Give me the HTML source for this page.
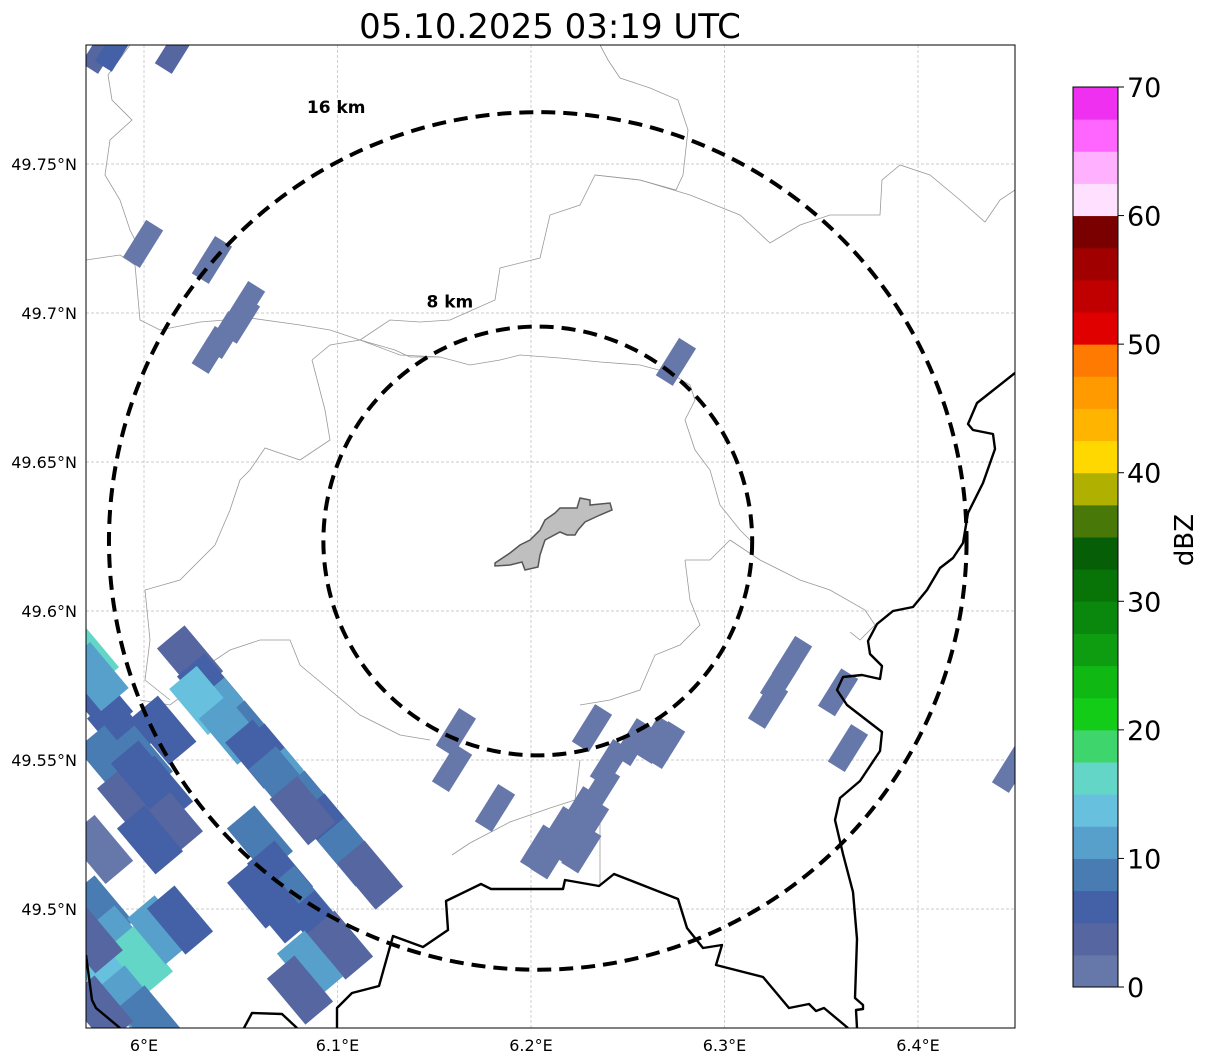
<!DOCTYPE html>
<html><head><meta charset="utf-8"><style>
html,body{margin:0;padding:0;background:#fff;}
svg{display:block;font-family:"DejaVu Sans","Liberation Sans",sans-serif;}
</style></head><body>
<svg id="chart" width="1207" height="1064" viewBox="0 0 1207 1064" xmlns="http://www.w3.org/2000/svg">
<defs><clipPath id="mapclip"><rect x="86" y="45" width="929" height="983"/></clipPath></defs>
<text x="550" y="38" font-size="34" text-anchor="middle">05.10.2025 03:19 UTC</text>
<g id="map" clip-path="url(#mapclip)"></g>
<rect x="86" y="45" width="929" height="983" fill="none" stroke="#000" stroke-width="1"/>
<g id="axes"></g>
<g id="cbar"></g>
<text x="1193" y="540" font-size="26" text-anchor="middle" transform="rotate(-90 1193 540)">dBZ</text>
</svg>
<script>
const lonTicks=[6.0,6.1,6.2,6.3,6.4];
const lonTickLabels=["6°E","6.1°E","6.2°E","6.3°E","6.4°E"];
const latTicks=[49.75,49.7,49.65,49.6,49.55,49.5];
const latTickLabels=["49.75°N","49.7°N","49.65°N","49.6°N","49.55°N","49.5°N"];
const cbarTicks=[0,10,20,30,40,50,60,70];
const cbarColors=["#6677aa","#5566a0","#4460a6","#4a7cb4","#58a0cc","#66c0de","#64d6c8","#3ed66c",
"#12cc18","#10b814","#0e9c10","#0a880e","#087408","#065e06","#487808","#b0b000",
"#ffd800","#ffb400","#ff9a00","#ff7a00","#e00000","#c00000","#a00000","#7a0000",
"#ffe0ff","#ffb0ff","#ff66ff","#f030f0"];
const ringRadiiKm=[8,16];
const cellLon=[6.0238,6.0341,6.0444,6.0548,6.0651,6.0755,6.0858,6.0961,6.1065,6.1168,6.0301,6.0454,6.0590,6.0710,6.0820,
 5.9773,5.9876,5.9979,6.0083,6.0134,5.9824,5.9928,6.0031,5.9773,5.9700,5.9750,6.0000,6.0100,
 6.0599,6.0703,6.0806,6.0910,6.1013,6.0858,6.0806,6.0700,6.0600,
 5.9773,5.9876,5.9979,6.0083,6.0186,5.9824,5.9928,6.0031,5.9773,5.9720,
 5.9779,5.9850,6.0160,5.9995,6.0351,6.0419,6.0496,6.0350,6.0522,
 6.1592,6.1612,6.1814,6.2047,6.2150,6.2253,6.2357,6.2315,6.2408,6.2530,6.2641,6.2693,6.2749,
 6.2100,6.2200,6.2300,6.2260,
 6.3225,6.3287,6.3349,6.3587,6.3638,6.4486];
const cellLat=[49.5836,49.5742,49.5661,49.5584,49.5507,49.5426,49.5349,49.5272,49.5191,49.5114,49.5700,49.5600,49.5520,49.5430,49.5330,
 49.5701,49.5601,49.5500,49.5399,49.5299,49.5500,49.5366,49.5232,49.5200,49.5850,49.5780,49.5450,49.5600,
 49.5232,49.5114,49.5030,49.4946,49.4879,49.4812,49.4728,49.5000,49.5050,
 49.4997,49.4896,49.4829,49.4930,49.4963,49.4762,49.4695,49.4628,49.4661,49.4900,
 49.7883,49.7890,49.7883,49.7232,49.7178,49.6926,49.6977,49.6876,49.7027,
 49.5473,49.5594,49.5339,49.5203,49.5265,49.5332,49.5400,49.5607,49.5490,49.5560,49.5567,49.5550,49.6836,
 49.5180,49.5230,49.5290,49.5200,
 49.5685,49.5770,49.5836,49.5727,49.5540,49.5470];
const cellDbz=[4,6,12,9,7,11,8,5,9,3,14,10,6,8,4,
 7,5,8,6,3,9,4,6,2,15,12,5,7,
 8,5,9,6,3,10,4,6,7,
 8,12,16,10,6,14,11,9,4,3,
 3,5,4,2,2,2,2,2,2,
 2,2,2,2,2,2,2,2,2,2,2,2,2,
 2,2,2,2,
 2,2,2,2,2,2];
const x=lon=>144+(lon-6.0)*1935;
const y=lat=>164+(49.75-lat)*2980;
const ns="http://www.w3.org/2000/svg";
function mk(tag,attrs,parent){const e=document.createElementNS(ns,tag);for(const k in attrs)e.setAttribute(k,attrs[k]);parent.appendChild(e);return e;}
const map=document.getElementById('map'),axes=document.getElementById('axes'),cbar=document.getElementById('cbar');
lonTicks.forEach((t,i)=>{const l=mk('line',{x1:x(t),x2:x(t),y1:45,y2:1028,stroke:'#bbb','stroke-width':0.7,'stroke-dasharray':'3,2'},map);

const tx=mk('text',{x:x(t),y:1051,'font-size':16,'text-anchor':'middle'},axes);tx.textContent=lonTickLabels[i];
});
latTicks.forEach((t,i)=>{const l=mk('line',{x1:86,x2:1015,y1:y(t),y2:y(t),stroke:'#bbb','stroke-width':0.7,'stroke-dasharray':'3,2'},map);

const tx=mk('text',{x:77,y:y(t)+6,'font-size':16,'text-anchor':'end'},axes);tx.textContent=latTickLabels[i];
});
const grayLines=[
"86,260 120,255 135,265 140,320 160,330 200,322 250,318 300,325 330,330 360,340 400,355 440,357",
"130,45 108,75 112,100 132,120 110,140 105,175 120,200 130,230 140,250 137,260",
"600,45 608,60 620,78 650,88 678,100 688,130 683,175 676,190 640,180 595,175 580,205 550,215 540,258 500,268 495,300 450,320 420,322 390,320 360,340",
"595,175 640,180 690,195 740,215 770,243 800,225 830,215 880,215 882,180 900,165 930,175 960,200 985,222 1000,200 1015,190",
"312,360 330,345 360,340 395,350 410,357 440,357 470,365 500,360 520,355 560,358 600,362 640,365 670,373 690,385 695,400 685,420 695,450 710,470 720,505 740,530 750,540",
"312,360 325,410 330,440 300,460 265,448 250,470 240,480 230,510 215,545 180,580 145,590 150,640 145,680 170,700",
"730,540 760,560 800,580 830,590 865,610 875,625 860,640 850,632",
"685,560 710,560 720,550 730,540",
"685,560 690,600 700,625 680,645 655,655 640,690 610,700 580,705",
"140,700 170,705 190,690 200,670 230,650 260,640 290,640 300,665 330,690 360,715 400,735 430,740",
"580,760 575,800 550,808 510,822 470,843 452,855",
"600,815 600,885"
];
grayLines.forEach(p=>{const l=mk('polyline',{points:p,fill:'none',stroke:'#999','stroke-width':0.8},map);
});
function colorFor(v){return cbarColors[Math.max(0,Math.min(cbarColors.length-1,Math.floor(v/2.5)))];}
cellLon.forEach((lo,i)=>{const cx=x(lo),cy=y(cellLat[i]);
 const sw=(lo<6.13&&cellLat[i]<49.6);
 const w=sw?60:44,h=sw?36:20,ang=sw?50:-58;
 const r=mk('rect',{x:cx-w/2,y:cy-h/2,width:w,height:h,fill:colorFor(cellDbz[i]),transform:`rotate(${ang} ${cx} ${cy})`},map);
 });
const borders=["1015,373 977,403 968,424 973,430 993,434 995,449 983,483 968,513 963,543 953,558 940,568 927,590 913,607 893,611 877,624 868,641 870,654 882,666 880,679 862,675 843,677 837,690 847,705 882,732 880,751 860,781 840,798 835,820 843,854 853,892 857,939 855,998 863,1005 863,1009 856,1010 857,1028",
"337,1028 337,1008 352,993 379,986 393,936 423,947 448,930 446,901 481,884 491,889 563,889 565,880 599,886 614,874 678,899 687,928 703,948 722,945 716,965 763,977 789,1008 809,1004 816,1011 824,1008 848,1028",
"244,1028 252,1013 282,1014 297,1028",
"86,955 92,1000 96,1008 120,1028"];
borders.forEach(p=>{const l=mk('polyline',{points:p,fill:'none',stroke:'#000','stroke-width':2.4,'stroke-linejoin':'round'},map);
});
const city=mk('polygon',{points:"495,563 510,553 520,545 530,540 540,530 545,520 555,513 560,508 577,508 580,498 590,500 590,505 610,503 612,510 600,515 585,522 578,530 575,535 567,535 560,532 545,540 540,555 538,567 525,570 522,562 510,565 495,566",fill:'#bfbfbf',stroke:'#555','stroke-width':1.5},map);

const radarLon=6.2035,radarLat=49.6235,pxPerKm=26.8;
ringRadiiKm.forEach(km=>{const r=km*pxPerKm;const c=mk('ellipse',{cx:x(radarLon),cy:y(radarLat),rx:r,ry:r,fill:'none',stroke:'#000','stroke-width':4,'stroke-dasharray':'14,8'},map);

const off=km===16?0:20;
const t=mk('text',{x:x(radarLon)-r*(km===16?0.47:0.41),y:y(radarLat)-r-off+1,'font-size':17,'font-weight':'bold','text-anchor':'middle'},map);
t.textContent=km+' km';});
const cy0=987,cy1=87,vmax=70;const cby=v=>cy0-(v/vmax)*(cy0-cy1);
for(let k=0;k<28;k++){const r=mk('rect',{x:1073,y:cby((k+1)*2.5),width:45,height:cby(k*2.5)-cby((k+1)*2.5)+0.5,fill:cbarColors[k]},cbar);
}
const fr=mk('rect',{x:1073,y:cy1,width:45,height:cy0-cy1,fill:'none',stroke:'#000','stroke-width':1},cbar);

cbarTicks.forEach(v=>{const l=mk('line',{x1:1118,x2:1124,y1:cby(v),y2:cby(v),stroke:'#000'},cbar);

const t=mk('text',{x:1127,y:cby(v)+10,'font-size':27},cbar);t.textContent=v;
});
</script>
</body></html>
